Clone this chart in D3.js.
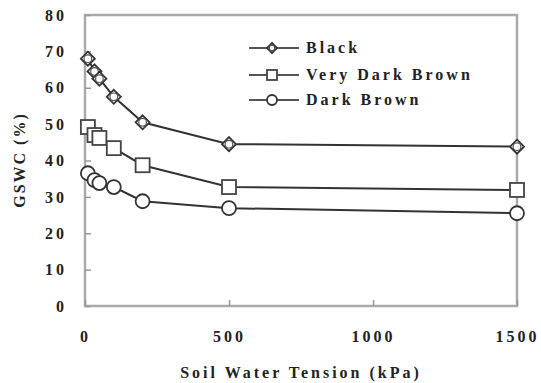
<!DOCTYPE html>
<html>
<head>
<meta charset="utf-8">
<script src="https://cdn.jsdelivr.net/npm/d3@7"></script>
<style>
  body { margin: 0; background: #fff; }
  text { font-family: "Liberation Serif", "DejaVu Serif", serif; font-weight: bold; fill: #222; }
</style>
</head>
<body>
<svg id="chart" width="541" height="383"></svg>
<script>
const tension = [10, 33, 50, 100, 200, 500, 1500]; // kPa
const black = [68, 64.5, 62.5, 57.5, 50.5, 44.5, 43.8];
const veryDarkBrown = [49.2, 47, 46.2, 43.4, 38.7, 32.7, 31.9];
const darkBrown = [36.5, 34.6, 33.8, 32.7, 28.8, 26.9, 25.5];
const seriesNames = ["Black", "Very Dark Brown", "Dark Brown"];
const xTicks = [0, 500, 1000, 1500];
const yTicks = [0, 10, 20, 30, 40, 50, 60, 70, 80];

const svg = d3.select("#chart");
const plotL = 85, plotR = 517, plotT = 15, plotB = 306;

const x = d3.scaleLinear().domain([0, 1500]).range([plotL, plotR]);
const y = d3.scaleLinear().domain([0, 80]).range([plotB, plotT]);

// frame
svg.append("rect")
  .attr("x", plotL).attr("y", plotT)
  .attr("width", plotR - plotL).attr("height", plotB - plotT)
  .attr("fill", "none").attr("stroke", "#aaa").attr("stroke-width", 2.5);

const styleText = g => g.selectAll("text")
  .style("font-size", "16px").style("letter-spacing", "3px").attr("font-family", null);

// y axis ticks + labels
const yAxis = d3.axisLeft(y).tickValues(yTicks).tickSize(-6).tickPadding(18).tickFormat(d3.format("d"));
svg.append("g").attr("transform", `translate(${plotL},0)`).call(yAxis)
  .call(g => g.select(".domain").remove())
  .call(g => g.selectAll("line").attr("stroke", "#999").attr("stroke-width", 1.5))
  .call(styleText);

// x axis ticks + labels
const xAxis = d3.axisBottom(x).tickValues(xTicks).tickSize(-6).tickPadding(25).tickFormat(d3.format("d"));
svg.append("g").attr("transform", `translate(0,${plotB})`).call(xAxis)
  .call(g => g.select(".domain").remove())
  .call(g => g.selectAll("line").attr("stroke", "#999").attr("stroke-width", 1.5))
  .call(styleText);

svg.append("text")
  .attr("x", (plotL + plotR) / 2).attr("y", 378)
  .attr("text-anchor", "middle").style("font-size", "16px").style("letter-spacing", "3px")
  .text("Soil Water Tension (kPa)");

svg.append("text")
  .attr("transform", "translate(25,160) rotate(-90)")
  .attr("text-anchor", "middle").style("font-size", "16px").style("letter-spacing", "2px")
  .text("GSWC (%)");

const series = [
  { name: seriesNames[0], values: black, shape: "diamond" },
  { name: seriesNames[1], values: veryDarkBrown, shape: "square" },
  { name: seriesNames[2], values: darkBrown, shape: "circle" }
];

function drawMarker(g, shape, cx, cy, r) {
  if (shape === "diamond") {
    g.append("path")
      .attr("d", `M${cx},${cy - r}L${cx + r},${cy}L${cx},${cy + r}L${cx - r},${cy}Z`)
      .attr("fill", "#fff").attr("stroke", "#333").attr("stroke-width", 1.8);
    g.append("circle").attr("cx", cx).attr("cy", cy).attr("r", r * 0.55)
      .attr("fill", "none").attr("stroke", "#555").attr("stroke-width", 1.2);
  } else if (shape === "square") {
    g.append("rect").attr("x", cx - r).attr("y", cy - r).attr("width", 2 * r).attr("height", 2 * r)
      .attr("fill", "#fff").attr("stroke", "#444").attr("stroke-width", 1.8);
  } else {
    g.append("circle").attr("cx", cx).attr("cy", cy).attr("r", r)
      .attr("fill", "#fff").attr("stroke", "#333").attr("stroke-width", 1.8);
  }
}

const line = d3.line().x(d => x(d[0])).y(d => y(d[1]));

series.forEach(s => {
  const pts = tension.map((t, i) => [t, s.values[i]]);
  svg.append("path").datum(pts).attr("d", line)
    .attr("fill", "none").attr("stroke", "#333").attr("stroke-width", 2);
  const g = svg.append("g");
  pts.forEach(p => drawMarker(g, s.shape, x(p[0]), y(p[1]), 7));
});

// legend
const legendY = [48, 75, 100];
series.forEach((s, i) => {
  const g = svg.append("g");
  g.append("line").attr("x1", 249).attr("x2", 299)
    .attr("y1", legendY[i]).attr("y2", legendY[i])
    .attr("stroke", "#555").attr("stroke-width", 2);
  drawMarker(g, s.shape, 272, legendY[i], 5);
  g.append("text").attr("x", 306).attr("y", legendY[i] + 5)
    .style("font-size", "16px").style("letter-spacing", "3px").text(s.name);
});
</script>
</body>
</html>
